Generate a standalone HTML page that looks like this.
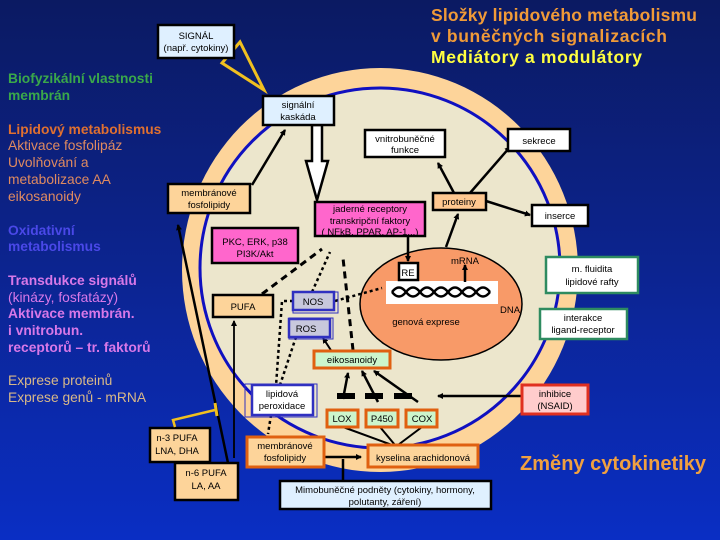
<!DOCTYPE html>
<html><head><meta charset="utf-8"><style>
body{margin:0;width:720px;height:540px;overflow:hidden;background:linear-gradient(#0b1a62 0%,#0c2490 50%,#0a2ec4 100%);font-family:"Liberation Sans",sans-serif}
svg{position:absolute;left:0;top:0}
text{font-family:"Liberation Sans",sans-serif}
.b{font-size:9.5px;fill:#000}
.l{font-size:13.8px}
</style></head><body>
<svg width="720" height="540" viewBox="0 0 720 540">
<defs>
<marker id="a" markerWidth="6" markerHeight="6" refX="5" refY="3" orient="auto" markerUnits="userSpaceOnUse"><path d="M0,0 L6,3 L0,6z" fill="#000"/></marker>
</defs>
<ellipse cx="380" cy="270" rx="198" ry="202" fill="#fdd49a"/>
<ellipse cx="380" cy="268" rx="180" ry="180" fill="#ece6cc" stroke="#1010c0" stroke-width="3"/>
<ellipse cx="441" cy="304" rx="81" ry="56" fill="#f89a68" stroke="#000" stroke-width="1.5"/>
<rect x="386" y="281" width="112" height="23" fill="#fff"/>
<path d="M392,292 q7,-9 14,0 t14,0 t14,0 t14,0 t14,0 t14,0 t14,0" stroke="#000" stroke-width="2.5" fill="none"/>
<path d="M392,292 q7,9 14,0 t14,0 t14,0 t14,0 t14,0 t14,0 t14,0" stroke="#000" stroke-width="2.5" fill="none"/>
<g font-weight="bold" class="l">
<text x="8" y="83" fill="#3aa84a">Biofyzikální vlastnosti</text>
<text x="8" y="100" fill="#3aa84a">membrán</text>
<text x="8" y="134" fill="#e07030">Lipidový metabolismus</text>
<text x="8" y="235" fill="#4a48e8">Oxidativní</text>
<text x="8" y="251" fill="#4a48e8">metabolismus</text>
<text x="8" y="285" fill="#d878e8">Transdukce signálů</text>
<text x="8" y="318" fill="#d878e8">Aktivace membrán.</text>
<text x="8" y="335" fill="#d878e8">i vnitrobun.</text>
<text x="8" y="352" fill="#d878e8">receptorů – tr. faktorů</text>
</g>
<g class="l">
<text x="8" y="150" fill="#e08a60">Aktivace fosfolipáz</text>
<text x="8" y="167" fill="#e08a60">Uvolňování a</text>
<text x="8" y="184" fill="#e08a60">metabolizace AA</text>
<text x="8" y="201" fill="#e08a60">eikosanoidy</text>
<text x="8" y="302" fill="#d878e8">(kinázy, fosfatázy)</text>
<text x="8" y="385" fill="#d8b888">Exprese proteinů</text>
<text x="8" y="402" fill="#d8b888">Exprese genů - mRNA</text>
</g>
<g font-weight="bold" font-size="17.5">
<text x="431" y="21" fill="#f09a38" textLength="266">Složky lipidového metabolismu</text>
<text x="431" y="42" fill="#f09a38" textLength="236">v buněčných signalizacích</text>
<text x="431" y="63" fill="#ffff40" textLength="211">Mediátory a modulátory</text>
</g>
<text x="520" y="470" font-size="20" font-weight="bold" fill="#f0a040" textLength="186">Změny cytokinetiky</text>
<path d="M240,42 L222,63 L264,90 Z" fill="none" stroke="#f0c020" stroke-width="3"/>
<g stroke="#000" stroke-width="2.5" fill="none" marker-end="url(#a)">
<line x1="252" y1="185" x2="285" y2="130"/>
<line x1="454" y1="193" x2="438" y2="163"/>
<line x1="470" y1="193" x2="510" y2="147"/>
<line x1="486" y1="201" x2="530" y2="215"/>
<line x1="446" y1="247" x2="458" y2="214"/>
<line x1="408" y1="237" x2="408" y2="261"/>
<line x1="465" y1="282" x2="465" y2="265"/>
<line x1="228" y1="463" x2="178" y2="225"/>
<line x1="234" y1="458" x2="234" y2="321" stroke-width="1.8"/>
<line x1="343" y1="399" x2="348" y2="373"/>
<line x1="378" y1="402" x2="362" y2="371"/>
<line x1="418" y1="402" x2="374" y2="371"/>
<line x1="522" y1="396" x2="438" y2="396"/>
<line x1="325" y1="457" x2="361" y2="457"/>
<line x1="336" y1="358" x2="323" y2="338" stroke-width="2"/>
</g>
<line x1="343" y1="480" x2="343" y2="459" stroke="#000" stroke-width="2.5"/>
<g stroke="#000" stroke-width="2">
<line x1="343" y1="427" x2="392" y2="445"/><line x1="380" y1="427" x2="395" y2="445"/><line x1="422" y1="427" x2="398" y2="445"/>
</g>
<g fill="#000"><rect x="337" y="393" width="18" height="6"/><rect x="365" y="393" width="18" height="6"/><rect x="394" y="393" width="18" height="6"/></g>
<path d="M312,125 L312,161 L306,161 L317,200 L328,161 L322,161 L322,125 Z" fill="#fff" stroke="#000" stroke-width="2.5"/>
<g stroke="#000" stroke-width="3" fill="none" stroke-dasharray="7,5">
<line x1="262" y1="294" x2="322" y2="249"/>
<line x1="353" y1="350" x2="343" y2="258"/>
</g>
<g stroke="#000" stroke-width="2.5" fill="none" stroke-dasharray="3,3">
<line x1="312" y1="292" x2="330" y2="252"/>
<path d="M293,301 L282,301 L276,386"/>
<line x1="296" y1="337" x2="280" y2="385"/>
<line x1="271" y1="415" x2="268" y2="434"/>
<line x1="335" y1="301" x2="382" y2="288"/>
</g>
<g stroke="#000" stroke-width="2.5">
<rect x="158" y="25" width="76" height="33" fill="#dff0ff"/>
<rect x="263" y="96" width="71" height="29" fill="#dff0ff"/>
<rect x="168" y="184" width="82" height="29" fill="#fdd49a"/>
<rect x="365" y="130" width="80" height="27" fill="#fff"/>
<rect x="508" y="129" width="62" height="22" fill="#fff"/>
<rect x="433" y="193" width="53" height="17" fill="#ffc890"/>
<rect x="532" y="205" width="56" height="21" fill="#fff"/>
<rect x="315" y="202" width="110" height="34" fill="#ff66cc"/>
<rect x="212" y="228" width="86" height="35" fill="#ff66cc"/>
<rect x="399" y="263" width="19" height="17" fill="#fff"/>
<rect x="213" y="295" width="60" height="22" fill="#fdd49a"/>
<rect x="150" y="428" width="60" height="34" fill="#fdd49a"/>
<rect x="175" y="463" width="63" height="37" fill="#fdd49a"/>
<rect x="280" y="481" width="211" height="28" fill="#dff0ff"/>
</g>
<g stroke="#2e8b60" stroke-width="2.5" fill="#fff">
<rect x="546" y="257" width="92" height="36"/>
<rect x="540" y="309" width="87" height="30"/>
</g>
<g fill="none" stroke="#3030c0" stroke-width="1"><rect x="293" y="292" width="45" height="21"/><rect x="289" y="318" width="44" height="21"/><rect x="245" y="384" width="72" height="33"/></g>
<g stroke="#3030c0" stroke-width="2.5">
<rect x="293" y="292" width="41" height="18" fill="#c8c8dc"/>
<rect x="289" y="319" width="41" height="18" fill="#c8c8dc"/>
<rect x="252" y="385" width="61" height="30" fill="#fff"/>
</g>
<g stroke="#e06010" stroke-width="3">
<rect x="314" y="351" width="76" height="17" fill="#ccf5cc"/>
<rect x="327" y="410" width="31" height="17" fill="#ccf5cc"/>
<rect x="366" y="410" width="32" height="17" fill="#ccf5cc"/>
<rect x="406" y="410" width="31" height="17" fill="#ccf5cc"/>
<rect x="247" y="437" width="77" height="30" fill="#fdd49a"/>
<rect x="368" y="445" width="110" height="22" fill="#fdd49a"/>
</g>
<rect x="522" y="385" width="66" height="29" fill="#ffcccc" stroke="#e03020" stroke-width="3"/>
<path d="M175,427 L173,420 L215,410" stroke="#f0c020" stroke-width="2.5" fill="none"/>
<line x1="215" y1="403" x2="217" y2="416" stroke="#f0c020" stroke-width="3"/>
<g class="b" text-anchor="middle">
<text x="196" y="39">SIGNÁL</text><text x="196" y="51">(např. cytokiny)</text>
<text x="298" y="108">signální</text><text x="298" y="120">kaskáda</text>
<text x="209" y="196">membránové</text><text x="209" y="208">fosfolipidy</text>
<text x="405" y="142">vnitrobuněčné</text><text x="405" y="153">funkce</text>
<text x="539" y="144">sekrece</text>
<text x="459" y="205">proteiny</text>
<text x="560" y="219">inserce</text>
<text x="370" y="212">jaderné receptory</text><text x="370" y="224">transkripční faktory</text><text x="370" y="235">( NFkB, PPAR, AP-1...)</text>
<text x="255" y="245">PKC, ERK, p38</text><text x="255" y="257">PI3K/Akt</text>
<text x="408" y="276">RE</text>
<text x="465" y="264">mRNA</text>
<text x="510" y="313">DNA</text>
<text x="426" y="325">genová exprese</text>
<text x="592" y="272">m. fluidita</text><text x="592" y="285">lipidové rafty</text>
<text x="583" y="321">interakce</text><text x="583" y="333">ligand-receptor</text>
<text x="243" y="310">PUFA</text>
<text x="313" y="305">NOS</text>
<text x="306" y="332">ROS</text>
<text x="352" y="363">eikosanoidy</text>
<text x="282" y="397">lipidová</text><text x="282" y="409">peroxidace</text>
<text x="555" y="397">inhibice</text><text x="555" y="409">(NSAID)</text>
<text x="342" y="422">LOX</text><text x="382" y="422">P450</text><text x="422" y="422">COX</text>
<text x="285" y="449">membránové</text><text x="285" y="461">fosfolipidy</text>
<text x="423" y="461">kyselina arachidonová</text>
<text x="385" y="493">Mimobuněčné podněty (cytokiny, hormony,</text><text x="385" y="505">polutanty, záření)</text>
<text x="177" y="441">n-3 PUFA</text><text x="177" y="454">LNA, DHA</text>
<text x="206" y="476">n-6 PUFA</text><text x="206" y="489">LA, AA</text>
</g>
</svg>
</body></html>
